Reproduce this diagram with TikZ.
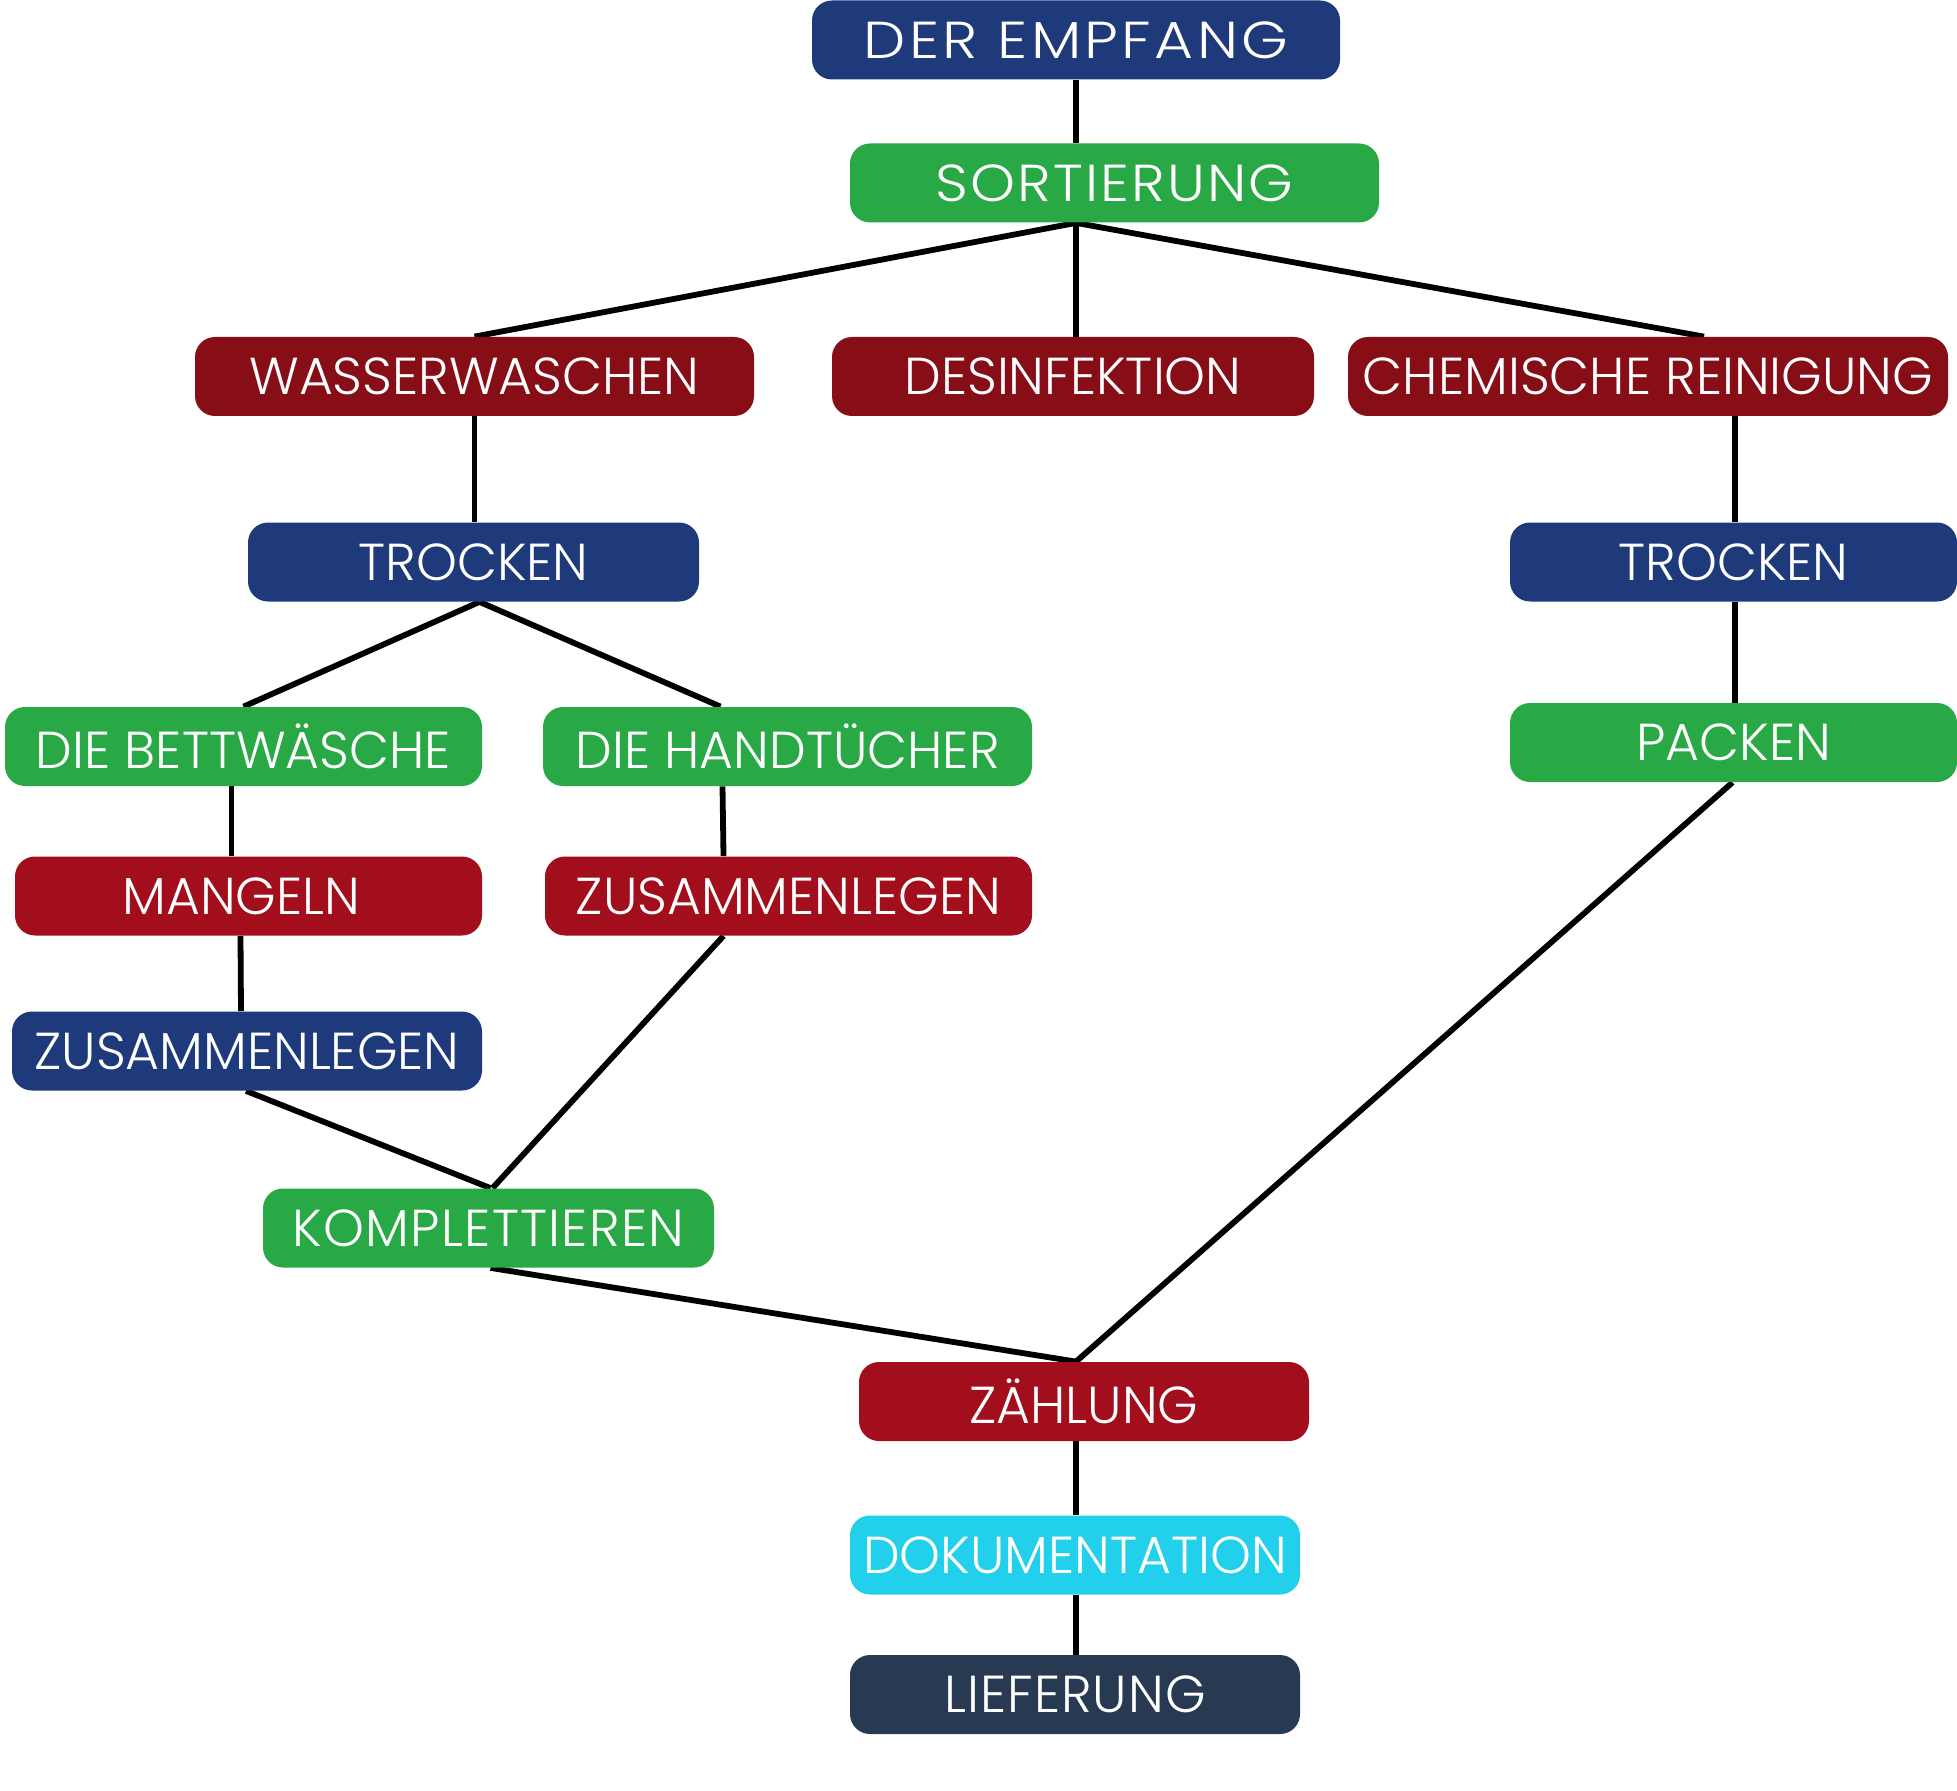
\documentclass[tikz,border=0pt]{standalone}
\usepackage{fontspec}
\setmainfont{Poppins}[UprightFont={* Light}]
\usetikzlibrary{calc,backgrounds}
\definecolor{navy}{RGB}{31,58,122}
\definecolor{grn}{RGB}{41,168,70}
\definecolor{dred}{RGB}{135,13,23}
\definecolor{rred}{RGB}{163,14,28}
\definecolor{cyanb}{RGB}{34,208,235}
\definecolor{slate}{RGB}{40,58,82}
\tikzset{
  box/.style={rounded corners=10pt, text=white, inner sep=0pt, minimum height=39.5pt,
    font=\fontsize{26}{30}\selectfont},
  conn/.style={line width=2.9pt, black},
}
\begin{document}
\begin{tikzpicture}[x=0.5pt,y=-0.5pt]
\begin{scope}[on background layer]
\fill[white] (0,0) rectangle (1957,1791);
\end{scope}
\useasboundingbox (0,0) rectangle (1957,1791);
\node[box, fill=navy, minimum width=264pt] (empf) at (1076,40) {\scalebox{1.15}[1]{\addfontfeatures{LetterSpace=5.6}DER EMPFANG}};
\node[box, fill=grn, minimum width=264.5pt] (sort) at (1114.5,183) {\scalebox{1.1}[1]{\addfontfeatures{LetterSpace=3.9}SORTIERUNG}};
\node[box, fill=dred, minimum width=279.5pt] (wass) at (474.5,376.5) {WASSERWASCHEN};
\node[box, fill=dred, minimum width=241pt] (desi) at (1073,376.5) {DESINFEKTION};
\node[box, fill=dred, minimum width=300pt] (chem) at (1648,376.5) {CHEMISCHE REINIGUNG};
\node[box, fill=navy, minimum width=225.5pt] (trol) at (473.5,562) {TROCKEN};
\node[box, fill=navy, minimum width=223.5pt] (tror) at (1733.5,562) {TROCKEN};
\node[box, fill=grn, minimum width=223.5pt] (pack) at (1733.5,742.5) {PACKEN};
\node[box, fill=grn, minimum width=238.5pt] (bett) at (243.5,746.5) {DIE BETTWÄSCHE};
\node[box, fill=grn, minimum width=244.5pt] (hand) at (787.5,746.5) {DIE HANDTÜCHER};
\node[box, fill=rred, minimum width=233.5pt] (mang) at (248.5,896) {\hspace*{-7pt}MANGELN};
\node[box, fill=rred, minimum width=243.5pt] (zusr) at (788.5,896) {ZUSAMMENLEGEN};
\node[box, fill=navy, minimum width=235pt] (zusb) at (247,1051) {ZUSAMMENLEGEN};
\node[box, fill=grn, minimum width=225.5pt] (komp) at (488.5,1228) {\addfontfeatures{LetterSpace=2.5}KOMPLETTIEREN};
\node[box, fill=rred, minimum width=225pt] (zaeh) at (1084,1401.5) {ZÄHLUNG};
\node[box, fill=cyanb, minimum width=225pt] (doku) at (1075,1555) {DOKUMENTATION};
\node[box, fill=slate, minimum width=225pt] (lief) at (1075,1694.5) {\addfontfeatures{LetterSpace=2}LIEFERUNG};
\begin{scope}[on background layer]
\draw[conn] (empf.south) -- (sort.north -| empf.south);
\draw[conn] (sort.south -| empf.south) -- (wass.north);
\draw[conn] (sort.south -| empf.south) -- (desi.north -| empf.south);
\draw[conn] (sort.south -| empf.south) -- ($(chem.north)+(56,0)$);
\draw[conn] (wass.south) -- (trol.north -| wass.south);
\draw[conn] ($(trol.south)+(6,0)$) -- (bett.north);
\draw[conn] ($(trol.south)+(6,0)$) -- ($(hand.north)+(-67,0)$);
\draw[conn] ($(bett.south)+(-12,0)$) -- ($(mang.north)+(-17,0)$);
\draw[conn] ($(mang.south)+(-8,0)$) -- ($(zusb.north)+(-6,0)$);
\draw[conn] ($(hand.south)+(-65,0)$) -- ($(zusr.north)+(-65,0)$);
\draw[conn] ($(zusr.south)+(-65,0)$) -- ($(komp.north)+(4,0)$);
\draw[conn] ($(zusb.south)+(-1,0)$) -- ($(komp.north)+(2,0)$);
\draw[conn] ($(komp.south)+(2,0)$) -- ($(zaeh.north)+(-8,0)$);
\draw[conn] ($(pack.south)+(-1,0)$) -- ($(zaeh.north)+(-8,0)$);
\draw[conn] ($(chem.south)+(87,0)$) -- ($(tror.north)+(1.5,0)$);
\draw[conn] ($(tror.south)+(1.5,0)$) -- ($(pack.north)+(1.5,0)$);
\draw[conn] ($(zaeh.south)+(-8,0)$) -- (doku.north -| empf.south);
\draw[conn] (doku.south -| empf.south) -- (lief.north -| empf.south);
\end{scope}
\end{tikzpicture}
\end{document}
